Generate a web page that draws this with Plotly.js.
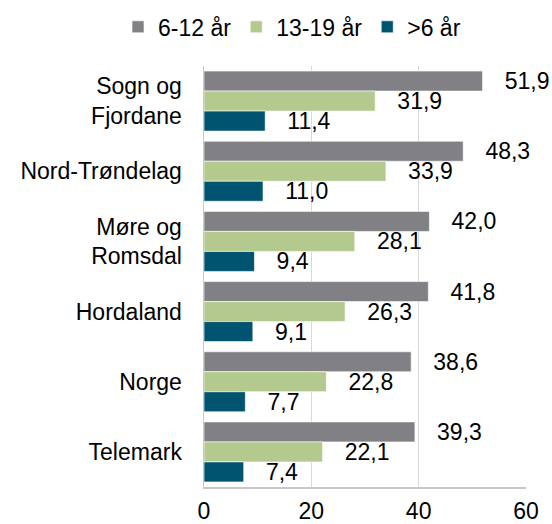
<!DOCTYPE html>
<html><head><meta charset="utf-8">
<script src="https://cdn.plot.ly/plotly-3.0.1.min.js"></script>
<style>html,body{margin:0;padding:0;background:#fff}#c{width:552px;height:524px}</style>
</head><body><div id="c"></div>
<script>
const categories = ["Sogn og<br>Fjordane", "Nord-Trøndelag", "Møre og<br>Romsdal", "Hordaland", "Norge", "Telemark"];
const seriesNames = ["6-12 år", "13-19 år", ">6 år"];
const v612 = [51.9, 48.3, 42.0, 41.8, 38.6, 39.3];
const v1319 = [31.9, 33.9, 28.1, 26.3, 22.8, 22.1];
const vUnder6 = [11.4, 11.0, 9.4, 9.1, 7.7, 7.4];
const xTicks = [0, 20, 40, 60];
const colors = ["#808085", "#b3c98e", "#00546f"];

const font = {family: "Liberation Sans, Arial, sans-serif", size: 23, color: "#000"};
const data = [v612, v1319, vUnder6].map((vals, i) => ({
  type: "bar", orientation: "h", name: seriesNames[i],
  x: vals, y: categories,
  marker: {color: colors[i], line: {color: "rgba(255,255,255,0.6)", width: 1}},
  texttemplate: "   %{x:.1f}", textposition: "outside", cliponaxis: false,
  constraintext: "none",
  textfont: font, hoverinfo: "none"
}));

const layout = {
  width: 552, height: 524,
  margin: {l: 204, r: 26, t: 66, b: 37, autoexpand: false},
  paper_bgcolor: "#fff", plot_bgcolor: "#fff",
  font: font, separators: ",.",
  barmode: "group", bargap: 0.145, bargroupgap: 0,
  showlegend: true,
  legend: {orientation: "h", xref: "paper", yref: "paper", x: -0.267, xanchor: "left", y: 1.093, yanchor: "middle", font: font, itemwidth: 30, traceorder: "normal"},
  xaxis: {range: [0, 60], tickvals: xTicks, showgrid: true, gridcolor: "#d9d9d9", gridwidth: 1.5,
    zeroline: false, showline: true, linecolor: "#c8c8c8", linewidth: 1.5, ticks: "", ticklabelstandoff: 3, tickfont: font, fixedrange: true},
  yaxis: {autorange: "reversed", showline: true, linecolor: "#c8c8c8", linewidth: 1.5, ticks: "", ticklabelstandoff: 16, tickfont: font, showgrid: false, fixedrange: true}
};
Plotly.newPlot("c", data, layout, {staticPlot: true, displayModeBar: false});
</script></body></html>
